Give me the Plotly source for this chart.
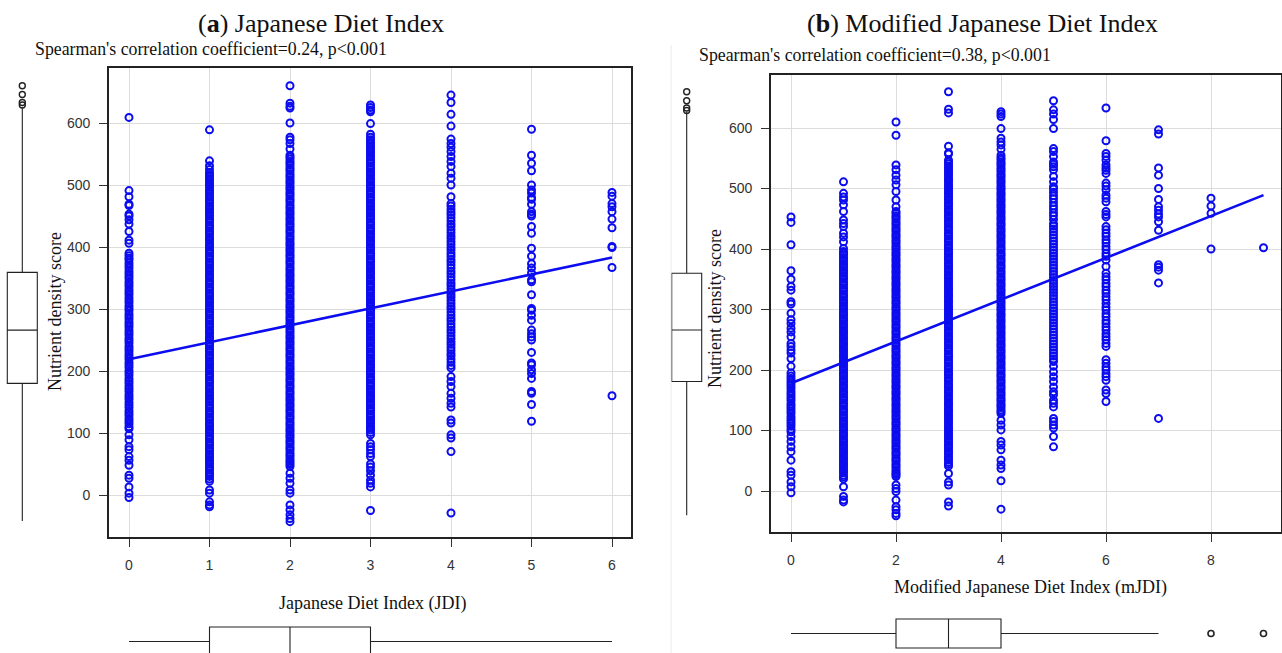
import plotly.graph_objects as go

# ---------------- data ----------------
jdi_categories = [0, 1, 2, 3, 4, 5, 6]
jdi_0 = [609, 491, 481, 469, 467, 453, 450, 444, 437, 425, 411, 406,
         390, 386, 382, 379, 374, 370, 366, 361, 357, 353, 349, 344, 340, 336, 331, 327, 323, 318, 314, 310,
         305, 301, 297, 292, 288, 284, 279, 275, 271, 266, 262, 258, 253, 249, 245, 240, 236, 232, 227, 223,
         219, 214, 210, 206, 201, 197, 193, 188, 184, 180, 175, 171, 167, 162, 158, 154, 149, 145, 141, 136,
         132, 128, 123, 119, 115, 110, 107,
         97, 89, 78, 73, 62, 56, 48, 32, 27, 13, 3, -4]
jdi_1 = [589, 539, 531, 525,
         520, 517, 513, 510, 507, 503, 500, 497, 493, 490, 487, 483, 480, 476, 473, 470, 466, 463, 460, 456,
         453, 450, 446, 443, 440, 436, 433, 430, 426, 423, 420, 416, 413, 410, 406, 403, 400, 396, 393, 390,
         386, 383, 380, 376, 373, 370, 366, 363, 360, 356, 353, 350, 346, 343, 340, 336, 333, 330, 326, 323,
         320, 316, 313, 310, 306, 303, 300, 296, 293, 290, 286, 283, 280, 276, 273, 270, 266, 263, 260, 256,
         253, 250, 246, 243, 240, 236, 233, 230, 226, 223, 220, 216, 213, 210, 206, 203, 200, 196, 193, 190,
         186, 183, 180, 176, 173, 170, 166, 163, 160, 156, 153, 150, 146, 143, 140, 136, 133, 130, 126, 123,
         120, 116, 113, 110, 106, 103, 100, 96, 93, 90, 86, 83, 80, 76, 73, 70, 66, 63, 60, 56, 53, 50, 46,
         43, 40, 36, 33, 30, 26, 22,
         8, 3, -11, -16, -19]
jdi_2 = [660, 632, 627, 624, 600, 577, 573, 567, 558, 548,
         545, 542, 538, 535, 532, 528, 525, 522, 518, 515, 512, 508, 505, 502, 498, 495, 492, 488, 485, 482,
         478, 475, 472, 468, 465, 462, 458, 455, 452, 448, 445, 442, 438, 435, 432, 428, 425, 422, 418, 415,
         412, 408, 405, 402, 398, 395, 392, 388, 385, 382, 378, 375, 372, 368, 365, 362, 358, 355, 352, 348,
         345, 342, 338, 335, 332, 328, 325, 322, 318, 315, 312, 308, 305, 302, 298, 295, 292, 288, 285, 282,
         278, 275, 272, 268, 265, 262, 258, 255, 252, 248, 245, 242, 238, 235, 232, 228, 225, 222, 218, 215,
         212, 208, 205, 202, 198, 195, 192, 188, 185, 182, 178, 175, 172, 168, 165, 162, 158, 155, 152, 148,
         145, 142, 138, 135, 132, 128, 125, 122, 118, 115, 112, 108, 105, 102, 98, 95, 92, 88, 85, 82, 78,
         75, 72, 68, 65, 62, 58, 55, 52, 49, 46,
         35, 27, 19, 8, 3, -16, -24, -32, -38, -43]
jdi_3 = [629, 625, 621, 618, 599, 582, 577,
         573, 569, 566, 562, 559, 555, 552, 548, 545, 541, 538, 535, 531, 528, 525, 521, 518, 515, 511, 508,
         505, 501, 498, 495, 491, 488, 485, 481, 478, 475, 471, 468, 465, 461, 458, 455, 451, 448, 445, 441,
         438, 435, 431, 428, 425, 421, 418, 415, 411, 408, 405, 401, 398, 395, 391, 388, 385, 381, 378, 375,
         371, 368, 365, 361, 358, 355, 351, 348, 345, 341, 338, 335, 331, 328, 325, 321, 318, 315, 311, 308,
         305, 301, 298, 295, 291, 288, 285, 281, 278, 275, 271, 268, 265, 261, 258, 255, 251, 248, 245, 241,
         238, 235, 231, 228, 225, 221, 218, 215, 211, 208, 205, 201, 198, 195, 191, 188, 185, 181, 178, 175,
         171, 168, 165, 161, 158, 155, 151, 148, 145, 141, 138, 135, 131, 128, 125, 121, 118, 115, 111, 108,
         105, 101, 97,
         83, 78, 73, 67, 62, 50, 45, 39, 32, 24, 19, 13, -25]
jdi_4 = [645, 633, 614, 595, 574, 567, 561, 554, 546, 538, 530, 519, 511, 500, 481, 470,
         466, 461, 456, 452, 447, 442, 437, 433, 428, 423, 418, 414, 409, 404, 399, 395, 390, 385, 380, 376,
         371, 366, 361, 357, 352, 347, 342, 338, 333, 328, 323, 319, 314, 309, 304, 300, 295, 290, 285, 281,
         276, 271, 266, 262, 257, 252, 247, 243, 238, 233, 228, 224, 219, 214, 209, 205,
         191, 183, 175, 164, 156, 148, 142, 121, 116, 97, 92, 70, -29]
jdi_5 = [590, 548, 535, 523, 500, 492, 487, 480, 477, 469, 457, 453, 450, 433, 422, 398, 385, 373, 366,
         358, 347, 344, 323, 301, 298, 290, 282, 266, 260, 255, 250, 230, 213, 210, 202, 196, 188, 167, 164,
         146, 119]
jdi_6 = [488, 482, 470, 465, 457, 445, 431, 401, 399, 367, 160]
jdi_values = [jdi_0, jdi_1, jdi_2, jdi_3, jdi_4, jdi_5, jdi_6]

mjdi_categories = [0, 1, 2, 3, 4, 5, 6, 7, 8, 9]
mjdi_0 = [453, 444, 407, 364, 350, 338, 332, 313, 309, 294, 283, 277, 269, 263, 255, 244, 239, 233, 228,
          219, 206, 195, 190, 186, 182, 178, 174, 170, 165, 161, 157, 153, 149, 144, 140, 136, 132, 128, 123,
          119, 115, 111, 107, 102, 98, 90, 82, 73, 65, 51, 32, 26, 15, 7, -3]
mjdi_1 = [511, 492, 486, 481, 473, 462, 448, 442, 437, 426, 420, 412, 401, 396,
          393, 390, 386, 383, 380, 376, 373, 370, 366, 363, 360, 356, 353, 350, 346, 343, 340, 336, 333, 330,
          326, 323, 320, 316, 313, 310, 306, 303, 300, 296, 293, 290, 286, 283, 280, 276, 273, 270, 266, 263,
          260, 256, 253, 250, 246, 243, 240, 236, 233, 230, 226, 223, 220, 216, 213, 210, 206, 203, 200, 196,
          193, 190, 186, 183, 180, 176, 173, 170, 166, 163, 160, 156, 153, 150, 146, 143, 140, 136, 133, 130,
          126, 123, 120, 116, 113, 110, 106, 103, 100, 96, 93, 90, 86, 83, 80, 76, 73, 70, 66, 63, 60, 56,
          53, 50, 46, 43, 40, 36, 33, 30, 26, 23, 20,
          7, -9, -15, -18]
mjdi_2 = [610, 588, 539, 531, 522, 514, 506, 495, 481, 470,
          462, 459, 455, 452, 449, 445, 442, 439, 435, 432, 429, 425, 422, 419, 415, 412, 409, 405, 402, 399,
          395, 392, 389, 385, 382, 379, 375, 372, 369, 365, 362, 359, 355, 352, 349, 345, 342, 339, 335, 332,
          329, 325, 322, 319, 315, 312, 309, 305, 302, 299, 295, 292, 289, 285, 282, 279, 275, 272, 269, 265,
          262, 259, 255, 252, 249, 245, 242, 239, 235, 232, 229, 225, 222, 219, 215, 212, 209, 205, 202, 199,
          195, 192, 189, 185, 182, 179, 175, 172, 169, 165, 162, 159, 155, 152, 149, 145, 142, 139, 135, 132,
          129, 125, 122, 119, 115, 112, 109, 105, 102, 99, 95, 92, 89, 85, 82, 79, 75, 72, 69, 65, 62, 59,
          55, 52, 49, 45, 42, 39, 35, 32, 29, 27,
          24, 10, 4, -1, -15, -26, -31, -37, -41]
mjdi_3 = [660, 631, 625, 570, 559, 557, 547,
          544, 541, 537, 534, 531, 527, 524, 521, 517, 514, 511, 507, 504, 501, 497, 494, 491, 487, 484, 481,
          477, 474, 471, 467, 464, 461, 457, 454, 451, 447, 444, 441, 437, 434, 431, 427, 424, 421, 417, 414,
          411, 407, 404, 401, 397, 394, 391, 387, 384, 381, 377, 374, 371, 367, 364, 361, 357, 354, 351, 347,
          344, 341, 337, 334, 331, 327, 324, 321, 317, 314, 311, 307, 304, 301, 297, 294, 291, 287, 284, 281,
          277, 274, 271, 267, 264, 261, 257, 254, 251, 247, 244, 241, 237, 234, 231, 227, 224, 221, 217, 214,
          211, 207, 204, 201, 197, 194, 191, 187, 184, 181, 177, 174, 171, 167, 164, 161, 157, 154, 151, 147,
          144, 141, 137, 134, 131, 127, 124, 121, 117, 114, 111, 107, 104, 101, 97, 94, 91, 87, 84, 81, 77,
          74, 71, 67, 64, 61, 57, 54, 51, 47, 44, 41,
          29, 15, 10, -18, -25]
mjdi_4 = [627, 623, 619, 599, 583, 577, 572, 565, 555,
          551, 548, 544, 541, 538, 534, 531, 528, 524, 521, 518, 514, 511, 508, 504, 501, 498, 494, 491, 488,
          484, 481, 478, 474, 471, 468, 464, 461, 458, 454, 451, 448, 444, 441, 438, 434, 431, 428, 424, 421,
          418, 414, 411, 408, 404, 401, 398, 394, 391, 388, 384, 381, 378, 374, 371, 368, 364, 361, 358, 354,
          351, 348, 344, 341, 338, 334, 331, 328, 324, 321, 318, 314, 311, 308, 304, 301, 298, 294, 291, 288,
          284, 281, 278, 274, 271, 268, 264, 261, 258, 254, 251, 248, 244, 241, 238, 234, 231, 228, 224, 221,
          218, 214, 211, 208, 204, 201, 198, 194, 191, 188, 184, 181, 178, 174, 171, 168, 164, 161, 158, 154,
          151, 148, 144, 141, 138, 134, 131, 128,
          117, 109, 101, 82, 76, 68, 51, 43, 37, 17, -30]
mjdi_5 = [645, 630, 623, 614, 599, 566, 561, 553, 544, 540, 536, 531, 520, 511, 503, 499, 494, 488, 483,
          477, 471, 466, 460, 455, 449, 442, 438, 433, 428, 423, 418, 413, 408, 403, 398, 393, 388, 383, 378,
          373, 368, 363, 358, 353, 348, 343, 338, 333, 328, 323, 318, 313, 308, 303, 298, 293, 288, 283, 278,
          273, 268, 263, 258, 253, 248, 243, 238, 233, 228, 223, 218, 214, 206, 197, 189, 181, 172, 164, 159,
          150, 145, 139, 120, 115, 109, 104, 90, 73]
mjdi_6 = [633, 579, 558, 553, 547, 539, 534, 530, 525, 509, 504, 498, 489, 484, 478, 462, 457, 453, 437,
          432, 426, 421, 415, 410, 404, 399, 393, 388, 382, 371, 360, 354, 349, 343, 338, 332, 327, 321, 316,
          310, 304, 299, 293, 288, 282, 277, 271, 266, 260, 255, 250, 244, 239, 217, 211, 205, 200, 194, 189,
          183, 167, 161, 148]
mjdi_7 = [597, 590, 534, 522, 500, 482, 470, 464, 458, 453, 445, 431, 374, 370, 365, 344, 120]
mjdi_8 = [484, 471, 459, 400]
mjdi_9 = [402]
mjdi_values = [mjdi_0, mjdi_1, mjdi_2, mjdi_3, mjdi_4, mjdi_5, mjdi_6, mjdi_7, mjdi_8, mjdi_9]

# regression lines (end points)
jdi_fit_x = [0, 6]
jdi_fit_y = [219, 383]
mjdi_fit_x = [0, 9]
mjdi_fit_y = [178, 489]

# marginal box plots: [lower whisker, q1, median, q3, upper whisker]
nds_box_a = [-42, 180, 266, 359, 626]
nds_out_a = [629, 633, 646, 660]
nds_box_b = [-40, 181, 266, 360, 627]
nds_out_b = [629, 633, 645, 660]
jdi_box = [0, 1, 2, 3, 6]
jdi_out = []
mjdi_box = [0, 2, 3, 4, 7]
mjdi_out = [8, 9]

x_ticks_a = [0, 1, 2, 3, 4, 5, 6]
x_ticks_b = [0, 2, 4, 6, 8]
y_ticks = [0, 100, 200, 300, 400, 500, 600]

# ---------------- layout helpers ----------------
W, H = 1282, 653
def fx(p):
    return p / W
def fy(p):
    return 1 - p / H

BLUE = "rgb(12,12,240)"
SERIF = "Liberation Serif"
SANS = "Liberation Sans"

fig = go.Figure()

def scatter(cats, vals, xa, ya):
    xs, ys = [], []
    for c, v in zip(cats, vals):
        xs += [c] * len(v)
        ys += v
    fig.add_trace(go.Scatter(x=xs, y=ys, mode="markers", xaxis=xa, yaxis=ya,
                             marker=dict(symbol="circle-open", size=7, color=BLUE,
                                         line=dict(width=2.0, color=BLUE)),
                             showlegend=False, hoverinfo="x+y"))

scatter(jdi_categories, jdi_values, "x", "y")
scatter(mjdi_categories, mjdi_values, "x2", "y2")

fig.add_trace(go.Scatter(x=jdi_fit_x, y=jdi_fit_y, mode="lines", xaxis="x", yaxis="y",
                         line=dict(color=BLUE, width=2.6), showlegend=False))
fig.add_trace(go.Scatter(x=mjdi_fit_x, y=mjdi_fit_y, mode="lines", xaxis="x2", yaxis="y2",
                         line=dict(color=BLUE, width=2.6), showlegend=False))

BOXLINE = dict(color="#222222", width=1.1)

def vbox(stats, outs, pos, width, xa, ya):
    fig.add_trace(go.Box(x=[pos], lowerfence=[stats[0]], q1=[stats[1]], median=[stats[2]],
                         q3=[stats[3]], upperfence=[stats[4]], width=width, orientation="v",
                         whiskerwidth=0, boxpoints=False, line=BOXLINE, fillcolor="white",
                         xaxis=xa, yaxis=ya, showlegend=False))
    if outs:
        fig.add_trace(go.Scatter(x=[pos] * len(outs), y=outs, mode="markers", xaxis=xa, yaxis=ya,
                                 marker=dict(symbol="circle-open", size=6, color="#222222",
                                             line=dict(width=1.4, color="#222222")),
                                 showlegend=False))

def hbox(stats, outs, pos, width, xa, ya):
    fig.add_trace(go.Box(y=[pos], lowerfence=[stats[0]], q1=[stats[1]], median=[stats[2]],
                         q3=[stats[3]], upperfence=[stats[4]], width=width, orientation="h",
                         whiskerwidth=0, boxpoints=False, line=BOXLINE, fillcolor="white",
                         xaxis=xa, yaxis=ya, showlegend=False))
    if outs:
        fig.add_trace(go.Scatter(x=outs, y=[pos] * len(outs), mode="markers", xaxis=xa, yaxis=ya,
                                 marker=dict(symbol="circle-open", size=6, color="#222222",
                                             line=dict(width=1.6, color="#222222")),
                                 showlegend=False))

vbox(nds_box_a, nds_out_a, 22.3, 30, "x3", "y3")
hbox(jdi_box, jdi_out, 11.5, 29, "x4", "y4")
vbox(nds_box_b, nds_out_b, 686.7, 30, "x5", "y5")
hbox(mjdi_box, mjdi_out, 19.5, 29, "x6", "y6")

tickfont = dict(family=SANS, size=14, color="#333333")
main_axis = dict(showgrid=True, gridcolor="#dcdcdc", gridwidth=1, zeroline=False,
                 showline=True, mirror=True, linecolor="#222222", linewidth=1.6,
                 ticks="outside", ticklen=8, tickwidth=1.2, tickcolor="#333333",
                 tickfont=tickfont)
hidden = dict(visible=False, showgrid=False, zeroline=False, fixedrange=True)

ya_dom = [fy(537), fy(68)]
ya_rng = [(495 - 537) / 0.62, (495 - 68) / 0.62]
yb_dom = [fy(532), fy(75)]
yb_rng = [(491 - 532) / 0.605, (491 - 75) / 0.605]
xa_dom = [fx(109), fx(631)]
xa_rng = [(109 - 129) / 80.5, (631 - 129) / 80.5]
xb_dom = [fx(771), fx(1281)]
xb_rng = [(771 - 791) / 52.5, (1281 - 791) / 52.5]

fig.update_layout(
    width=W, height=H, margin=dict(l=0, r=0, t=0, b=0),
    paper_bgcolor="white", plot_bgcolor="white", showlegend=False,
    xaxis=dict(main_axis, domain=xa_dom, range=xa_rng, tickvals=x_ticks_a, anchor="y",
               ticklabelstandoff=6),
    yaxis=dict(main_axis, domain=ya_dom, range=ya_rng, tickvals=y_ticks, anchor="x",
               ticklabelstandoff=6),
    xaxis2=dict(main_axis, domain=xb_dom, range=xb_rng, tickvals=x_ticks_b, anchor="y2",
                ticklabelstandoff=6),
    yaxis2=dict(main_axis, domain=yb_dom, range=yb_rng, tickvals=y_ticks, anchor="x2",
                ticklabelstandoff=6),
    xaxis3=dict(hidden, domain=[0, fx(45)], range=[0, 45], anchor="y3"),
    yaxis3=dict(hidden, domain=ya_dom, range=ya_rng, anchor="x3"),
    xaxis4=dict(hidden, domain=xa_dom, range=xa_rng, anchor="y4"),
    yaxis4=dict(hidden, domain=[0, fy(613)], range=[0, 40], anchor="x4"),
    xaxis5=dict(hidden, domain=[fx(660), fx(712)], range=[660, 712], anchor="y5"),
    yaxis5=dict(hidden, domain=yb_dom, range=yb_rng, anchor="x5"),
    xaxis6=dict(hidden, domain=xb_dom, range=xb_rng, anchor="y6"),
    yaxis6=dict(hidden, domain=[0, fy(613)], range=[0, 40], anchor="x6"),
)

def note(text, x, y, size, xanchor="center", angle=0):
    fig.add_annotation(text=text, x=fx(x), y=fy(y), xref="paper", yref="paper",
                       xanchor=xanchor, yanchor="middle", showarrow=False, textangle=angle,
                       font=dict(family=SERIF, size=size, color="#111111"))

note("(<b>a</b>) Japanese Diet Index", 321, 24, 26)
note("(<b>b</b>) Modified Japanese Diet Index", 982, 24, 26)
note("Spearman's correlation coefficient=0.24, p<0.001", 33, 49, 17.8, xanchor="left")
note("Spearman's correlation coefficient=0.38, p<0.001", 697, 55, 17.8, xanchor="left")
note("Japanese Diet Index (JDI)", 372, 603, 18)
note("Modified Japanese Diet Index (mJDI)", 1030, 587, 18)
note("Nutrient density score", 55, 312, 18, angle=-90)
note("Nutrient density score", 715, 309, 18, angle=-90)

# faint frame line at the left edge of panel (b)
fig.add_shape(type="line", xref="paper", yref="paper", x0=fx(671), x1=fx(671), y0=0, y1=fy(45),
              line=dict(color="#ebebeb", width=1))

fig.write_html("out.html", config={"displayModeBar": False},
               post_script="document.body.style.margin='0px';")
